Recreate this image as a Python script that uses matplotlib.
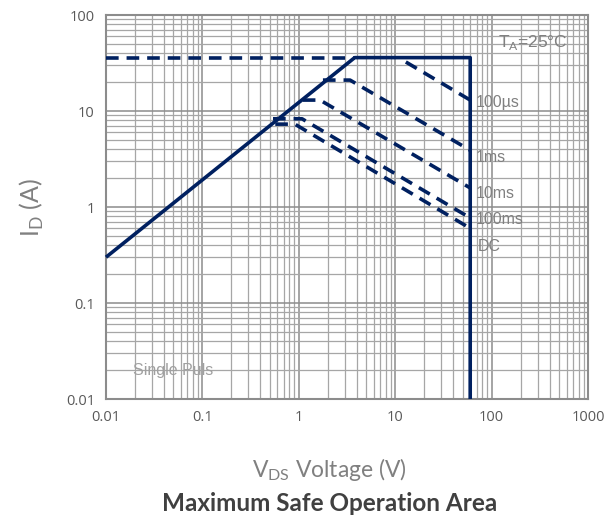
import numpy as np
import matplotlib
matplotlib.use('Agg')
import matplotlib.pyplot as plt

plt.rcParams['mathtext.fontset'] = 'custom'
plt.rcParams['mathtext.rm'] = 'Lato'

# outline of the SOA (solid)
limit_v = [0.01, 3.8, 60, 60]
limit_i = [0.3, 36, 36, 0.01]

# current limit dashed line
ilim_v = [0.01, 3.8]
ilim_i = [36, 36]

# pulse curves (dashed)
pulse_names = ['100µs', '1ms', '10ms', '100ms', 'DC']
pulse_v = [[12.9, 60], [1.78, 3.4, 60], [1.1, 1.66, 60], [0.54, 1.08, 60], [0.57, 0.91, 60]]
pulse_i = [[32.4, 13.0], [21, 21, 3.9], [13, 13, 1.58], [8.3, 8.3, 0.77], [7.3, 7.3, 0.60]]
label_pos = [(68, 12.3), (68, 3.25), (69, 1.38), (69, 0.75), (72, 0.39)]

navy = '#002060'
grey = '#808080'

fig = plt.figure(figsize=(6.04, 5.18), dpi=100)
ax = fig.add_axes([0.1755, 0.2297, 0.798, 0.7413])
ax.set_xscale('log')
ax.set_yscale('log')
ax.set_xlim(0.01, 1000)
ax.set_ylim(0.01, 100)

ax.grid(which='major', color='#8c8c8c', lw=1.1)
ax.grid(which='minor', color='#a6a6a6', lw=0.9)
ax.set_axisbelow(True)
for s in ax.spines.values():
    s.set_color('#8c8c8c')
    s.set_linewidth(1.5)
ax.tick_params(which='both', length=0, colors='#595959', labelsize=10.5, pad=8)
ax.set_xticks([0.01, 0.1, 1, 10, 100, 1000])
ax.set_xticklabels(['0.01', '0.1', '1', '10', '100', '1000'])
ax.set_yticks([0.01, 0.1, 1, 10, 100])
ax.set_yticklabels(['0.01', '0.1', '1', '10', '100'])
for t in ax.get_xticklabels() + ax.get_yticklabels():
    t.set_fontfamily('Open Sans')

ax.plot(limit_v, limit_i, color=navy, lw=2.6, solid_capstyle='butt', clip_on=False, zorder=5)
ax.plot(ilim_v, ilim_i, color=navy, lw=2.6, ls=(0, (3.5, 2.2)), zorder=5)
for v, i in zip(pulse_v, pulse_i):
    ax.plot(v, i, color=navy, lw=2.6, ls=(0, (3.5, 2.2)), zorder=5)

for name, (x, y) in zip(pulse_names, label_pos):
    ax.text(x, y, name, color=grey, fontsize=11.5, family='Liberation Sans', va='center', ha='left')

ax.text(116, 52, r'T$_{\mathrm{A}}$=25°C', color=grey, fontsize=12.5, family='Liberation Sans', va='center')
ax.text(0.019, 0.0196, 'Single Puls', color='#a0a0a0', fontsize=11.5, family='Liberation Sans', va='center')

fig.text(0.052, 0.6, r'I$_{\mathrm{D}}$ (A)', rotation=90, color=grey, fontsize=18,
         family='Lato', ha='center', va='center')
fig.text(0.545, 0.093, r'V$_{\mathrm{DS}}$ Voltage (V)', color=grey, fontsize=16.5,
         family='Lato', ha='center', va='center')
fig.text(0.545, 0.028, 'Maximum Safe Operation Area', color='#404040', fontsize=17.5,
         family='Lato', weight='bold', ha='center', va='center')

fig.savefig('out.png', dpi=100)
